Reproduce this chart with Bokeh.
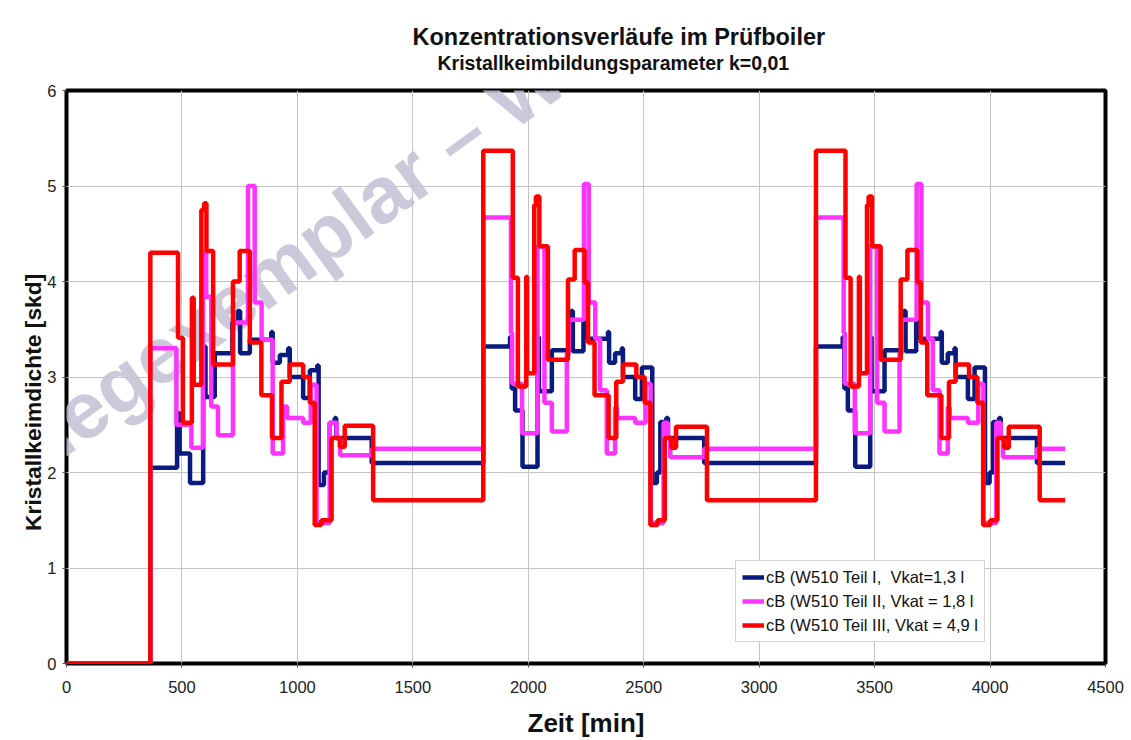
from bokeh.plotting import figure
from bokeh.models import Range1d, Label, Legend, LegendItem, FixedTicker, Title
from bokeh.embed import file_html
from bokeh.resources import INLINE

# ---------------- data ----------------
# step series: value y[i] holds from t[i] until t[i+1]  (time in min)
blue_t = [0, 363, 479, 490, 535, 592, 602, 642, 718, 742, 752, 794, 887, 893, 924, 960, 967,
          1025, 1054, 1086, 1092, 1115, 1140, 1162, 1168, 1322,
          1805, 1921, 1928, 1943, 1975, 2040, 2046, 2102, 2174, 2185, 2193, 2239, 2254, 2345,
          2350, 2376, 2405, 2410, 2463, 2492, 2537, 2557, 2572, 2598, 2605, 2762,
          3246, 3362, 3369, 3384, 3416, 3481, 3487, 3543, 3615, 3626, 3634, 3680, 3695, 3786,
          3791, 3817, 3846, 3851, 3904, 3933, 3978, 3998, 4013, 4039, 4046, 4203, 4325]
blue_y = [0, 2.05, 2.62, 2.20, 1.89, 3.32, 2.79, 3.25, 3.57, 3.69, 3.25, 3.39, 3.47, 3.15, 3.23, 3.30, 3.00,
          2.78, 3.07, 3.12, 1.87, 2.00, 2.52, 2.57, 2.36, 2.10,
          3.32, 3.42, 2.88, 2.65, 2.06, 3.42, 2.85, 3.28, 3.60, 3.69, 3.27, 3.57, 3.40, 3.47,
          3.15, 3.25, 3.30, 3.00, 2.77, 3.10, 1.89, 2.00, 2.53, 2.57, 2.36, 2.10,
          3.32, 3.42, 2.88, 2.65, 2.06, 3.42, 2.85, 3.28, 3.60, 3.69, 3.27, 3.57, 3.40, 3.47,
          3.15, 3.25, 3.30, 3.00, 2.77, 3.10, 1.89, 2.00, 2.53, 2.57, 2.36, 2.10, 2.10]

pink_t = [0, 363, 476, 541, 591, 605, 627, 656, 721, 786, 815, 845, 893, 938, 955, 1025, 1058,
          1083, 1140, 1170, 1185, 1322,
          1805, 1925, 1930, 1973, 2040, 2070, 2102, 2167, 2176, 2241, 2262, 2290, 2311, 2340,
          2376, 2384, 2463, 2508, 2530, 2586, 2605, 2615, 2762,
          3246, 3366, 3371, 3414, 3481, 3511, 3543, 3608, 3617, 3682, 3703, 3731, 3752, 3781,
          3817, 3825, 3904, 3949, 3971, 4027, 4046, 4056, 4203, 4325]
pink_y = [0, 3.30, 2.50, 2.26, 4.30, 3.84, 2.69, 2.39, 3.57, 5.00, 3.78, 3.39, 2.20, 2.69, 2.57, 2.52, 2.92,
          1.47, 2.52, 2.36, 2.18, 2.25,
          4.67, 3.46, 2.93, 2.41, 4.37, 2.73, 2.43, 3.25, 3.60, 5.02, 3.78, 3.40, 2.86, 2.20,
          2.68, 2.57, 2.52, 2.93, 1.47, 2.52, 2.36, 2.16, 2.25,
          4.67, 3.46, 2.93, 2.41, 4.37, 2.73, 2.43, 3.25, 3.60, 5.02, 3.78, 3.40, 2.86, 2.20,
          2.68, 2.57, 2.52, 2.93, 1.47, 2.52, 2.36, 2.16, 2.25, 2.25]

red_t = [0, 363, 483, 504, 543, 551, 584, 596, 606, 635, 721, 750, 794, 844, 890, 931, 967,
         1025, 1054, 1075, 1104, 1148, 1184, 1205, 1328,
         1805, 1933, 1955, 1991, 1995, 2026, 2033, 2048, 2085, 2172, 2201, 2244, 2259, 2287,
         2348, 2381, 2410, 2468, 2504, 2529, 2560, 2591, 2620, 2640, 2774,
         3246, 3374, 3396, 3432, 3436, 3467, 3474, 3489, 3526, 3613, 3642, 3685, 3700, 3728,
         3789, 3822, 3851, 3909, 3945, 3970, 4001, 4032, 4061, 4081, 4215, 4325]
red_y = [0, 4.30, 3.41, 2.52, 3.83, 2.92, 4.75, 4.82, 4.32, 3.13, 4.00, 4.32, 3.36, 2.81, 2.36, 2.95, 3.13,
         3.00, 2.73, 1.45, 1.50, 2.36, 2.27, 2.49, 1.71,
         5.37, 4.04, 2.90, 4.05, 3.04, 4.80, 4.89, 4.37, 3.18, 4.02, 4.33, 3.99, 3.36, 2.81,
         2.36, 2.95, 3.13, 3.00, 2.73, 1.45, 1.50, 2.36, 2.26, 2.48, 1.71,
         5.37, 4.04, 2.90, 4.05, 3.04, 4.80, 4.89, 4.37, 3.18, 4.02, 4.33, 3.99, 3.36, 2.81,
         2.36, 2.95, 3.13, 3.00, 2.73, 1.45, 1.50, 2.36, 2.26, 2.48, 1.71, 1.71]

series_labels = ["cB (W510 Teil I,  Vkat=1,3 l",
                 "cB (W510 Teil II, Vkat = 1,8 l",
                 "cB (W510 Teil III, Vkat = 4,9 l"]
x_ticks = [0, 500, 1000, 1500, 2000, 2500, 3000, 3500, 4000, 4500]
y_ticks = [0, 1, 2, 3, 4, 5, 6]

title_text = "Konzentrationsverläufe im Prüfboiler"
subtitle_text = "Kristallkeimbildungsparameter k=0,01"
x_label = "Zeit [min]"
y_label = "Kristallkeimdichte [skd]"
watermark = "Belegexemplar – Weitergabe"

# ---------------- figure ----------------
FONT = "Liberation Sans"
p = figure(width=1128, height=740, output_backend="svg", toolbar_location=None,
           x_range=Range1d(0, 4500), y_range=Range1d(0, 6),
           min_border_left=66, min_border_right=23, min_border_top=90, min_border_bottom=77)
p.background_fill_color = "white"
p.border_fill_color = "white"
p.outline_line_color = "black"
p.outline_line_width = 4

# titles: main title on top, subtitle closest to the frame
p.title.text = title_text
p.title.align = "left"
p.title.offset = 346
p.title.text_font = FONT
p.title.text_font_style = "bold"
p.title.text_font_size = "23.5px"
p.title.text_color = "#111111"
p.title.standoff = -32
p.add_layout(Title(text=subtitle_text, align="left", offset=371, text_font=FONT,
                   text_font_style="bold", text_font_size="19.5px", text_color="#111111",
                   standoff=33), "above")

p.xgrid.ticker = FixedTicker(ticks=x_ticks)
p.ygrid.ticker = FixedTicker(ticks=y_ticks)
p.grid.grid_line_color = "#c4c4c4"
p.grid.grid_line_width = 1

for ax in (p.xaxis[0], p.yaxis[0]):
    ax.axis_line_color = None
    ax.major_tick_line_color = "#555555"
    ax.major_tick_out = 4
    ax.major_tick_in = 0
    ax.minor_tick_line_color = None
    ax.major_label_text_font = FONT
    ax.major_label_text_font_size = "16.5px"
    ax.major_label_text_color = "#222222"
    ax.axis_label_text_font = FONT
    ax.axis_label_text_font_style = "bold"
    ax.axis_label_text_color = "#111111"
p.xaxis[0].ticker = FixedTicker(ticks=x_ticks)
p.yaxis[0].ticker = FixedTicker(ticks=y_ticks)
p.xaxis[0].major_label_standoff = 13
p.yaxis[0].major_label_standoff = 6
p.xaxis[0].axis_label = x_label
p.yaxis[0].axis_label = y_label + "\u00a0" * 8
p.xaxis[0].axis_label_text_font_size = "26px"
p.yaxis[0].axis_label_text_font_size = "22.8px"
p.xaxis[0].axis_label_standoff = 12
p.yaxis[0].axis_label_standoff = -2

# watermark (inside the plotting area)
p.add_layout(Label(x=-446, y=1.74, text=watermark, angle=36, angle_units="deg",
                   text_font=FONT, text_font_style="bold", text_font_size="80px",
                   text_color="#c6bfd3", text_alpha=0.85, text_align="left",
                   text_baseline="alphabetic", level="underlay"))

r_blue = p.step(blue_t, blue_y, mode="after", line_color="#0b1a7e", line_width=4.5)
r_pink = p.step(pink_t, pink_y, mode="after", line_color="#ff33ff", line_width=4.5)
r_red = p.step(red_t, red_y, mode="after", line_color="#ff0000", line_width=4.5)

legend = Legend(items=[LegendItem(label=series_labels[0], renderers=[r_blue]),
                       LegendItem(label=series_labels[1], renderers=[r_pink]),
                       LegendItem(label=series_labels[2], renderers=[r_red])],
                location=(669, 21))
legend.label_text_font = FONT
legend.label_text_font_size = "16.5px"
legend.label_text_color = "#111111"
legend.glyph_width = 22
legend.glyph_height = 20
legend.label_height = 20
legend.label_standoff = 2
legend.spacing = 4
legend.padding = 6
legend.margin = 0
legend.border_line_color = "#aaaaaa"
legend.border_line_width = 1
legend.background_fill_color = "white"
legend.background_fill_alpha = 1
p.add_layout(legend, "center")

open("out.html", "w").write(file_html(p, INLINE))
